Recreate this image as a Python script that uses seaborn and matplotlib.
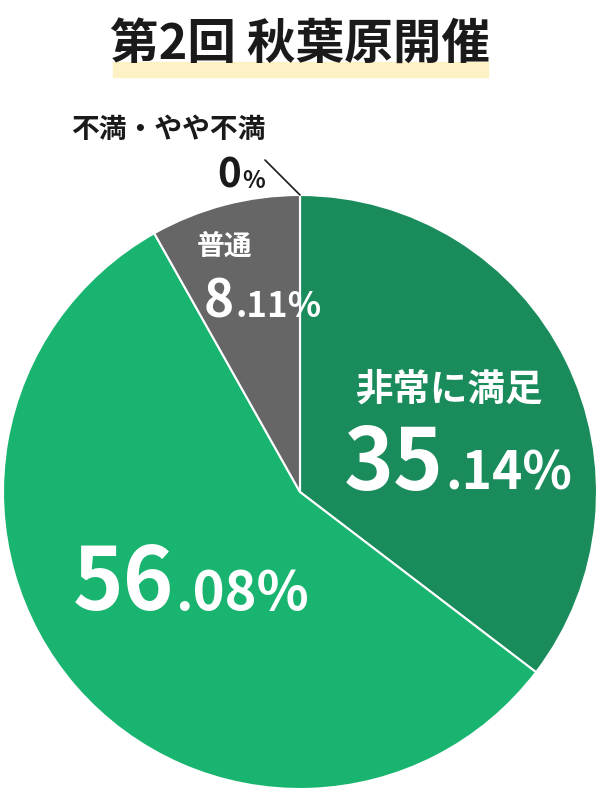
import matplotlib
matplotlib.use("Agg")
import matplotlib.pyplot as plt
import matplotlib.patches as mpatches
import seaborn as sns

# data
categories = ["非常に満足", "やや満足", "普通", "不満・やや不満"]
values = [35.14, 56.08, 8.11, 0.0]
colors = ["#1a8c5c", "#19b46f", "#666666", "#444444"]
title = "第2回 秋葉原開催"

sns.set_theme(style="white")
plt.rcParams["font.family"] = ["Noto Sans CJK JP", "DejaVu Sans"]

W, H = 600, 794
fig = plt.figure(figsize=(W / 100, H / 100), dpi=100)
ax = fig.add_axes([0, 0, 1, 1])


def Y(py):
    return H - py


# pie
ax.pie(values, colors=colors, startangle=90, counterclock=False,
       center=(300, Y(492)), radius=297, frame=True,
       wedgeprops=dict(edgecolor="white", linewidth=1.5))
ax.set_xlim(0, W)
ax.set_ylim(0, H)
ax.set_aspect("equal")
ax.axis("off")

# title with highlight bar
ax.add_patch(mpatches.Rectangle((113, Y(77)), 375, 15, color="#fdf1c6", zorder=1))
ax.text(300, Y(44), title, ha="center", va="center", fontsize=35,
        fontweight="bold", color="#1a1a1a", zorder=2)


def pct(x, py, v, big, small, color):
    s = f"{v:.2f}"
    ip, dp = s.split(".")
    ax.text(x, Y(py), ip, ha="right", va="baseline", fontsize=big,
            fontweight="bold", color=color)
    ax.text(x + 1, Y(py), "." + dp + "%", ha="left", va="baseline",
            fontsize=small, fontweight="bold", color=color)


# 非常に満足
ax.text(449, Y(389), categories[0], ha="center", va="center", fontsize=27,
        fontweight="bold", color="white")
pct(444, 490, values[0], 61, 37, "white")

# やや満足
pct(174, 610, values[1], 62, 39, "white")

# 普通
ax.text(225, Y(247), categories[2], ha="center", va="center", fontsize=20,
        fontweight="bold", color="white")
pct(234, 317, values[2], 37, 25, "white")

# 不満・やや不満 (outside label)
ax.text(168, Y(130), categories[3], ha="center", va="center", fontsize=20,
        fontweight="bold", color="#1a1a1a")
ax.text(241, Y(188), "0", ha="right", va="baseline", fontsize=29,
        fontweight="bold", color="#1a1a1a")
ax.text(242, Y(188), "%", ha="left", va="baseline", fontsize=17,
        fontweight="bold", color="#1a1a1a")
ax.plot([265, 300], [Y(160), Y(195)], color="#1a1a1a", linewidth=1.2)

fig.savefig("out.png", dpi=100)
